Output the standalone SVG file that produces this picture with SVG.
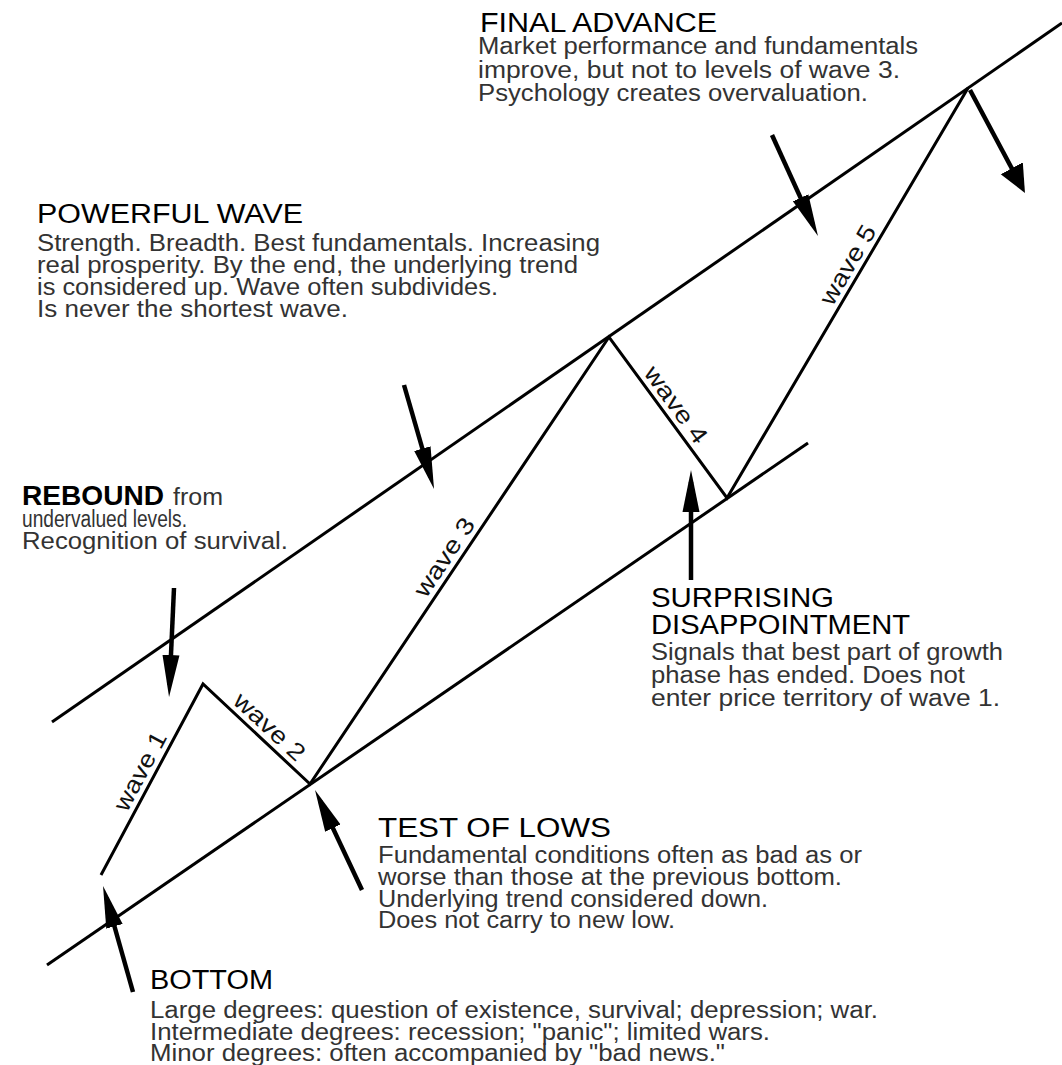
<svg xmlns="http://www.w3.org/2000/svg" width="1062" height="1065" viewBox="0 0 1062 1065">
  <style>
    .ln { stroke: #000; stroke-width: 3; fill: none; stroke-linejoin: miter; stroke-miterlimit: 20; }
    .ar { stroke: #000; stroke-width: 4.5; fill: none; }
    .ar1 { marker-end: url(#head); }
    .ar2 { marker-end: url(#head2); }
    .hd { font-family: "Liberation Sans", Arial, sans-serif; font-size: 27px; fill: #000; }
    .hb { font-family: "Liberation Sans", Arial, sans-serif; font-size: 27px; font-weight: bold; fill: #000; }
    .bd { font-family: "Liberation Sans", Arial, sans-serif; font-size: 23px; fill: #333; }
    .wv { font-family: "Liberation Sans", Arial, sans-serif; font-size: 24px; fill: #111; text-anchor: middle; }
  </style>
  <defs>
    <marker id="head" markerUnits="userSpaceOnUse" orient="auto" markerWidth="44" markerHeight="20" viewBox="0 -10 44 20" refX="30" refY="0">
      <path d="M0,-8.5 L42,0 L0,8.5 Z" fill="#000"/>
    </marker>
    <marker id="head2" markerUnits="userSpaceOnUse" orient="auto" markerWidth="30" markerHeight="28" viewBox="0 -14 30 28" refX="20" refY="0">
      <path d="M0,-12.5 L28,0 L0,12.5 Z" fill="#000"/>
    </marker>
  </defs>
  <rect x="0" y="0" width="1062" height="1065" fill="#fff"/>

  <g id="connectors">
    <line id="upper-channel" class="ln" x1="52" y1="722" x2="1062" y2="23"/>
    <line id="lower-channel" class="ln" x1="47" y1="965" x2="808" y2="443"/>
    <path id="waves" class="ln" d="M101,875 L203,684 L310,784 L609,337 L727,498 L968,88"/>
    <line class="ar ar1" x1="133" y1="992" x2="106.3" y2="897.5"/>
    <line class="ar ar1" x1="362" y1="890" x2="320.1" y2="800.9"/>
    <line class="ar ar1" x1="174" y1="588" x2="169.6" y2="685"/>
    <line class="ar ar1" x1="404" y1="385" x2="430.7" y2="477.5"/>
    <line class="ar ar1" x1="691" y1="580" x2="691" y2="482"/>
    <line class="ar ar1" x1="772" y1="135" x2="813" y2="225.1"/>
    <line class="ar ar2" x1="970" y1="90" x2="1021.2" y2="185.9"/>
  </g>

  <g id="wave-labels">
    <text class="wv" transform="translate(152.6,778) rotate(-61.9)" y="-6" textLength="86" lengthAdjust="spacingAndGlyphs">wave 1</text>
    <text class="wv" transform="translate(260,737) rotate(42.8)" y="-6" textLength="88" lengthAdjust="spacingAndGlyphs">wave 2</text>
    <text class="wv" transform="translate(456,565) rotate(-56.2)" y="-6" textLength="90" lengthAdjust="spacingAndGlyphs">wave 3</text>
    <text class="wv" transform="translate(664.7,413) rotate(53.8)" y="-6" textLength="90" lengthAdjust="spacingAndGlyphs">wave 4</text>
    <text class="wv" transform="translate(860,272) rotate(-59.55)" y="-6" textLength="88" lengthAdjust="spacingAndGlyphs">wave 5</text>
  </g>

  <g id="final-advance">
    <text class="hd" x="480" y="32" textLength="237" lengthAdjust="spacingAndGlyphs">FINAL  ADVANCE</text>
    <text class="bd" x="478" y="54" textLength="440" lengthAdjust="spacingAndGlyphs">Market performance and fundamentals</text>
    <text class="bd" x="478" y="78" textLength="422" lengthAdjust="spacingAndGlyphs">improve, but not to levels of wave 3.</text>
    <text class="bd" x="478" y="101" textLength="390" lengthAdjust="spacingAndGlyphs">Psychology creates overvaluation.</text>
  </g>

  <g id="powerful-wave">
    <text class="hd" x="37" y="223" textLength="266" lengthAdjust="spacingAndGlyphs">POWERFUL  WAVE</text>
    <text class="bd" x="37" y="251" textLength="563" lengthAdjust="spacingAndGlyphs">Strength. Breadth. Best fundamentals. Increasing</text>
    <text class="bd" x="37" y="273" textLength="541" lengthAdjust="spacingAndGlyphs">real prosperity. By the end, the underlying trend</text>
    <text class="bd" x="37" y="295" textLength="461" lengthAdjust="spacingAndGlyphs">is considered up. Wave often subdivides.</text>
    <text class="bd" x="37" y="317" textLength="311" lengthAdjust="spacingAndGlyphs">Is never the shortest wave.</text>
  </g>

  <g id="rebound">
    <text class="hb" x="22" y="505" textLength="142" lengthAdjust="spacingAndGlyphs">REBOUND</text>
    <text class="bd" x="173" y="505" textLength="50" lengthAdjust="spacingAndGlyphs">from</text>
    <text class="bd" x="22" y="527" textLength="165" lengthAdjust="spacingAndGlyphs">undervalued levels.</text>
    <text class="bd" x="22" y="549" textLength="266" lengthAdjust="spacingAndGlyphs">Recognition of survival.</text>
  </g>

  <g id="surprising-disappointment">
    <text class="hd" x="651" y="607" textLength="183" lengthAdjust="spacingAndGlyphs">SURPRISING</text>
    <text class="hd" x="651" y="634" textLength="259" lengthAdjust="spacingAndGlyphs">DISAPPOINTMENT</text>
    <text class="bd" x="651" y="660" textLength="352" lengthAdjust="spacingAndGlyphs">Signals that best part of growth</text>
    <text class="bd" x="651" y="683" textLength="314" lengthAdjust="spacingAndGlyphs">phase has ended. Does not</text>
    <text class="bd" x="651" y="706" textLength="349" lengthAdjust="spacingAndGlyphs">enter price territory of wave 1.</text>
  </g>

  <g id="test-of-lows">
    <text class="hd" x="378" y="837" textLength="233" lengthAdjust="spacingAndGlyphs">TEST  OF  LOWS</text>
    <text class="bd" x="378" y="863" textLength="484" lengthAdjust="spacingAndGlyphs">Fundamental conditions often as bad as or</text>
    <text class="bd" x="378" y="885" textLength="464" lengthAdjust="spacingAndGlyphs">worse than those at the previous bottom.</text>
    <text class="bd" x="378" y="907" textLength="390" lengthAdjust="spacingAndGlyphs">Underlying trend considered down.</text>
    <text class="bd" x="378" y="928" textLength="297" lengthAdjust="spacingAndGlyphs">Does not carry to new low.</text>
  </g>

  <g id="bottom">
    <text class="hd" x="150" y="989" textLength="123" lengthAdjust="spacingAndGlyphs">BOTTOM</text>
    <text class="bd" x="150" y="1018" textLength="728" lengthAdjust="spacingAndGlyphs">Large degrees: question of existence, survival; depression; war.</text>
    <text class="bd" x="150" y="1040" textLength="620" lengthAdjust="spacingAndGlyphs">Intermediate degrees: recession; "panic"; limited wars.</text>
    <text class="bd" x="150" y="1061" textLength="575" lengthAdjust="spacingAndGlyphs">Minor degrees: often accompanied by "bad news."</text>
  </g>
</svg>
